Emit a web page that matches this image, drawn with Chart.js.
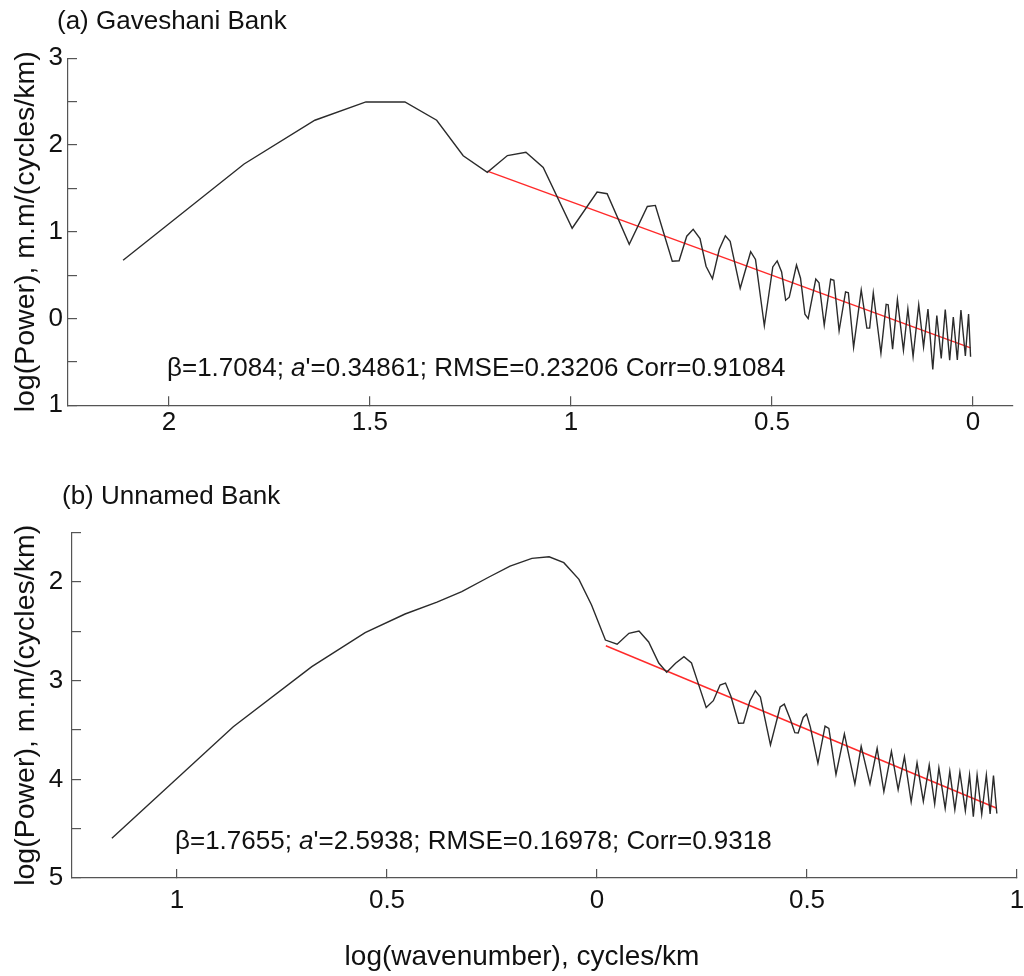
<!DOCTYPE html>
<html>
<head>
<meta charset="utf-8">
<script src="https://cdn.jsdelivr.net/npm/chart.js@4.4.1/dist/chart.umd.min.js"></script>
<style>
html,body{margin:0;padding:0;background:#fff;}
#wrap{position:relative;width:1024px;height:976px;overflow:hidden;}
.panel{position:absolute;left:0;width:1024px;}
#pa{top:0;height:470px;}
#pb{top:470px;height:506px;}
</style>
</head>
<body>
<div id="wrap">
  <div class="panel" id="pa"><canvas id="ca"></canvas></div>
  <div class="panel" id="pb"><canvas id="cb"></canvas></div>
</div>
<script>
// ---------- Panel (a) Gaveshani Bank ----------
const logK_a = [-2.114, -1.813, -1.637, -1.510, -1.413, -1.334, -1.268, -1.208, -1.158, -1.112,
  -1.069, -0.997, -0.935, -0.910, -0.855, -0.810, -0.790, -0.748, -0.731, -0.712,
  -0.696, -0.679, -0.664, -0.648, -0.631, -0.616, -0.604, -0.579, -0.553, -0.541,
  -0.519, -0.498, -0.487, -0.476, -0.466, -0.457, -0.439, -0.429, -0.418, -0.410,
  -0.391, -0.383, -0.370, -0.354, -0.346, -0.333, -0.317, -0.310, -0.297, -0.278,
  -0.264, -0.257, -0.248, -0.229, -0.216, -0.211, -0.200, -0.188, -0.173, -0.162,
  -0.149, -0.135, -0.123, -0.112, -0.100, -0.090, -0.079, -0.069, -0.058, -0.049,
  -0.039, -0.030, -0.019, -0.011, -0.006];
const logP_a = [0.672, 1.782, 2.286, 2.497, 2.497, 2.286, 1.877, 1.686, 1.879, 1.917,
  1.741, 1.041, 1.458, 1.439, 0.856, 1.292, 1.304, 0.661, 0.666, 0.949,
  1.029, 0.922, 0.603, 0.459, 0.799, 0.954, 0.891, 0.349, 0.770, 0.681,
  -0.083, 0.595, 0.664, 0.537, 0.211, 0.246, 0.617, 0.465, 0.050, 0.000,
  0.455, 0.413, -0.077, 0.453, 0.441, -0.141, 0.307, 0.297, -0.331, 0.330,
  -0.110, -0.110, 0.297, -0.400, 0.163, 0.159, -0.352, 0.220, -0.365, 0.110,
  -0.438, 0.159, -0.327, 0.110, -0.588, 0.035, -0.461, 0.105, -0.481, 0.018,
  -0.477, 0.099, -0.432, 0.053, -0.440];
const fitX_a = [-1.208, -0.006];
const fitY_a = [1.700, -0.339];
const xTicks_a = [-2, -1.5, -1, -0.5, 0];
const xTickLabels_a = ['2', '1.5', '1', '0.5', '0'];
const yTicks_a = [-1, -0.5, 0, 0.5, 1, 1.5, 2, 2.5, 3];
const yTickLabels_a = ['1', '', '0', '', '1', '', '2', '', '3'];

// ---------- Panel (b) Unnamed Bank ----------
const logK_b = [-1.155, -0.866, -0.679, -0.552, -0.457, -0.381, -0.322, -0.257, -0.207, -0.155,
  -0.114, -0.079, -0.043, -0.013, 0.020, 0.048, 0.076, 0.100, 0.123, 0.147,
  0.166, 0.187, 0.207, 0.225, 0.241, 0.260, 0.277, 0.293, 0.306, 0.319,
  0.337, 0.349, 0.364, 0.377, 0.389, 0.413, 0.436, 0.446, 0.460, 0.471,
  0.479, 0.491, 0.499, 0.508, 0.526, 0.543, 0.552, 0.569, 0.589, 0.614,
  0.629, 0.650, 0.667, 0.683, 0.701, 0.717, 0.732, 0.748, 0.762, 0.777,
  0.791, 0.804, 0.814, 0.829, 0.840, 0.852, 0.864, 0.877, 0.887, 0.896,
  0.905, 0.916, 0.927, 0.936, 0.944, 0.952];
const logP_b = [-4.598, -3.467, -2.858, -2.514, -2.324, -2.203, -2.098, -1.949, -1.838, -1.760,
  -1.744, -1.804, -1.973, -2.233, -2.588, -2.631, -2.520, -2.497, -2.608, -2.821,
  -2.914, -2.824, -2.757, -2.821, -3.027, -3.272, -3.203, -3.044, -3.024, -3.160,
  -3.432, -3.429, -3.206, -3.102, -3.166, -3.652, -3.267, -3.238, -3.388, -3.527,
  -3.530, -3.373, -3.338, -3.470, -3.837, -3.461, -3.483, -3.951, -3.540, -4.047,
  -3.665, -4.047, -3.685, -4.125, -3.716, -4.105, -3.771, -4.227, -3.832, -4.223,
  -3.855, -4.250, -3.885, -4.294, -3.919, -4.308, -3.926, -4.319, -3.956, -4.379,
  -3.956, -4.354, -3.956, -4.351, -3.961, -4.346];
const fitX_b = [0.021, 0.952];
const fitY_b = [-2.646, -4.293];
const xTicks_b = [-1, -0.5, 0, 0.5, 1];
const xTickLabels_b = ['1', '0.5', '0', '0.5', '1'];
const yTicks_b = [-5, -4.5, -4, -3.5, -3, -2.5, -2, -1.5];
const yTickLabels_b = ['5', '', '4', '', '3', '', '2', ''];

// ---------- shared styling ----------
const FONT = '"Liberation Sans", Arial, Helvetica, sans-serif';
const AXIS = '#555555';
const INK = '#111111';
const CURVE = '#2b2b2b';
const FIT = '#ff2a2a';

const textPlugin = {
  id: 'panelText',
  afterDraw(chart, args, opts) {
    const ctx = chart.ctx;
    ctx.save();
    ctx.fillStyle = INK;
    ctx.textBaseline = 'middle';
    (opts.items || []).forEach(it => {
      const fontFor = p => (p.italic ? 'italic ' : '') + it.size + 'px ' + FONT;
      let total = 0;
      it.parts.forEach(p => { ctx.font = fontFor(p); total += ctx.measureText(p.t).width; });
      let x = it.align === 'center' ? it.x - total / 2 : it.x;
      ctx.textAlign = 'left';
      it.parts.forEach(p => {
        ctx.font = fontFor(p);
        ctx.fillText(p.t, x, it.y);
        x += ctx.measureText(p.t).width;
      });
    });
    ctx.restore();
  }
};

function toPoints(xs, ys) { return xs.map((x, i) => ({x: x, y: ys[i]})); }

function makePanel(canvasId, cfg) {
  return new Chart(document.getElementById(canvasId), {
    type: 'line',
    data: {
      datasets: [
        { data: toPoints(cfg.xs, cfg.ys), borderColor: CURVE, borderWidth: 1.4,
          pointRadius: 0, tension: 0, fill: false },
        { data: toPoints(cfg.fx, cfg.fy), borderColor: FIT, borderWidth: 1.4,
          pointRadius: 0, tension: 0, fill: false }
      ]
    },
    options: {
      responsive: true,
      maintainAspectRatio: false,
      devicePixelRatio: 1,
      animation: false,
      events: [],
      layout: { padding: cfg.padding },
      plugins: {
        legend: { display: false },
        tooltip: { enabled: false },
        title: { display: false },
        panelText: { items: cfg.texts }
      },
      scales: {
        x: {
          type: 'linear', position: 'bottom', min: cfg.xMin, max: cfg.xMax,
          afterBuildTicks: s => { s.ticks = cfg.xTicks.map(v => ({value: v})); },
          afterFit: s => { s.height = cfg.xHeight; s.paddingLeft = 0; s.paddingRight = 0; },
          border: { display: true, color: AXIS, width: 1.2 },
          grid: { drawOnChartArea: false, drawTicks: true, tickLength: -9, color: AXIS, lineWidth: 1.2 },
          ticks: { callback: (v, i) => cfg.xLabels[i], autoSkip: false, maxRotation: 0,
                   color: INK, font: { family: FONT, size: 26 }, padding: cfg.xPad }
        },
        y: {
          type: 'linear', position: 'left', min: cfg.yMin, max: cfg.yMax,
          afterBuildTicks: s => { s.ticks = cfg.yTicks.map(v => ({value: v})); },
          afterFit: s => { s.width = cfg.yWidth; s.paddingTop = 0; s.paddingBottom = 0; },
          border: { display: true, color: AXIS, width: 1.2 },
          grid: { drawOnChartArea: false, drawTicks: true, tickLength: -9, color: AXIS, lineWidth: 1.2 },
          ticks: { callback: (v, i) => cfg.yLabels[i], autoSkip: false,
                   color: INK, font: { family: FONT, size: 26 }, padding: cfg.yPad },
          title: { display: true, text: 'log(Power), m.m/(cycles/km)', color: INK,
                   font: { family: FONT, size: 28.5 }, padding: { top: 9, bottom: 0 } }
        }
      }
    },
    plugins: [textPlugin]
  });
}

makePanel('ca', {
  xs: logK_a, ys: logP_a, fx: fitX_a, fy: fitY_a,
  xMin: -2.251, xMax: 0.0995, yMin: -1, yMax: 3,
  xTicks: xTicks_a, xLabels: xTickLabels_a, yTicks: yTicks_a, yLabels: yTickLabels_a,
  padding: { left: 0, right: 11, top: 58.3, bottom: 0 },
  xHeight: 64.7, yWidth: 68, xPad: 11, yPad: 14,
  texts: [
    { x: 57, y: 22, size: 26, parts: [{ t: '(a) Gaveshani Bank' }] },
    { x: 167, y: 369, size: 26, parts: [{ t: 'β=1.7084; ' }, { t: 'a', italic: true }, { t: "'=0.34861; RMSE=0.23206 Corr=0.91084" }] }
  ]
});

makePanel('cb', {
  xs: logK_b, ys: logP_b, fx: fitX_b, fy: fitY_b,
  xMin: -1.25, xMax: 1.0, yMin: -5, yMax: -1.5,
  xTicks: xTicks_b, xLabels: xTickLabels_b, yTicks: yTicks_b, yLabels: yTickLabels_b,
  padding: { left: 0, right: 7, top: 62.7, bottom: 0 },
  xHeight: 98, yWidth: 72, xPad: 16, yPad: 17.7,
  texts: [
    { x: 62, y: 27, size: 26, parts: [{ t: '(b) Unnamed Bank' }] },
    { x: 175, y: 372, size: 26, parts: [{ t: 'β=1.7655; ' }, { t: 'a', italic: true }, { t: "'=2.5938; RMSE=0.16978; Corr=0.9318" }] },
    { x: 522, y: 487, size: 28, align: 'center', parts: [{ t: 'log(wavenumber), cycles/km' }] }
  ]
});
</script>
</body>
</html>
